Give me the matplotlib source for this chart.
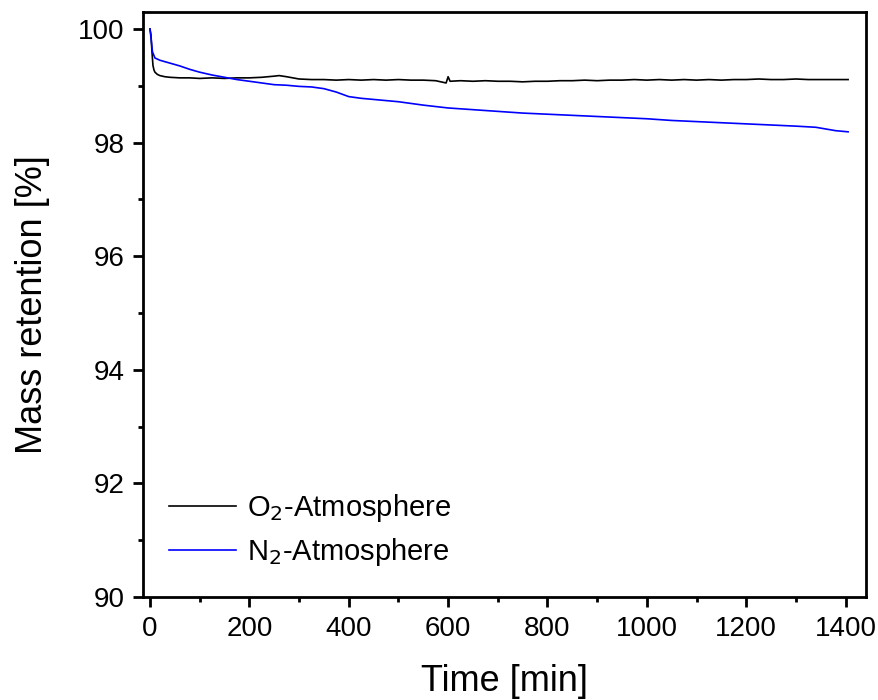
import matplotlib.pyplot as plt
from matplotlib.ticker import MultipleLocator

plt.rcParams['font.family'] = ['Liberation Sans', 'DejaVu Sans']

# O2 atmosphere (time in min, mass retention in %)
t_o2 = [0, 2, 4, 6, 8, 10, 15, 20, 30, 40, 60, 80, 100, 125, 150, 175, 200,
        225, 250, 260, 275, 300, 325, 350, 375, 400, 425, 450, 475, 500, 525,
        550, 575, 596, 600, 604, 625, 650, 675, 700, 725, 750, 775, 800, 825,
        850, 875, 900, 925, 950, 975, 1000, 1025, 1050, 1075, 1100, 1125,
        1150, 1175, 1200, 1225, 1250, 1275, 1300, 1325, 1350, 1375, 1405]
m_o2 = [100.0, 99.9, 99.6, 99.36, 99.28, 99.24, 99.2, 99.18, 99.16, 99.15,
        99.14, 99.14, 99.13, 99.14, 99.13, 99.14, 99.14, 99.15, 99.17, 99.18,
        99.16, 99.12, 99.11, 99.11, 99.10, 99.11, 99.10, 99.11, 99.10, 99.11,
        99.10, 99.10, 99.09, 99.05, 99.16, 99.08, 99.09, 99.08, 99.09, 99.08,
        99.08, 99.07, 99.08, 99.08, 99.09, 99.09, 99.10, 99.09, 99.10, 99.10,
        99.11, 99.10, 99.11, 99.10, 99.11, 99.10, 99.11, 99.10, 99.11, 99.11,
        99.12, 99.11, 99.11, 99.12, 99.11, 99.11, 99.11, 99.11]

# N2 atmosphere
t_n2 = [0, 2, 5, 10, 20, 40, 60, 80, 100, 125, 150, 175, 200, 225, 250, 275,
        300, 325, 350, 375, 400, 425, 450, 475, 500, 550, 600, 650, 700, 750,
        800, 850, 900, 950, 1000, 1050, 1100, 1150, 1200, 1250, 1300, 1340,
        1360, 1380, 1405]
m_n2 = [100.0, 99.85, 99.6, 99.49, 99.45, 99.40, 99.35, 99.29, 99.24, 99.19,
        99.15, 99.11, 99.08, 99.05, 99.02, 99.01, 98.99, 98.98, 98.95, 98.89,
        98.81, 98.78, 98.76, 98.74, 98.72, 98.66, 98.61, 98.58, 98.55, 98.52,
        98.50, 98.48, 98.46, 98.44, 98.42, 98.39, 98.37, 98.35, 98.33, 98.31,
        98.29, 98.27, 98.24, 98.21, 98.19]

fig = plt.figure(figsize=(8.79, 7.0), dpi=100)
ax = fig.add_axes([0.1627, 0.1471, 0.8225, 0.8358])

ax.plot(t_o2, m_o2, color='black', lw=1.2, label='O$_2$-Atmosphere')
ax.plot(t_n2, m_n2, color='#0000FF', lw=1.2, label='N$_2$-Atmosphere')

ax.set_xlim(-14, 1441)
ax.set_ylim(90, 100.3)
ax.xaxis.set_major_locator(MultipleLocator(200))
ax.xaxis.set_minor_locator(MultipleLocator(100))
ax.yaxis.set_major_locator(MultipleLocator(2))
ax.yaxis.set_minor_locator(MultipleLocator(1))

for s in ax.spines.values():
    s.set_linewidth(2.0)
ax.tick_params(which='both', direction='out', width=2.0, labelsize=20,
               top=False, right=False, pad=6.5)
ax.tick_params(which='major', length=7)
ax.tick_params(which='minor', length=3.6)

ax.set_xlabel('Time [min]', fontsize=26, labelpad=16)
ax.set_ylabel('Mass retention [%]', fontsize=26, labelpad=20)

ax.legend(loc='lower left', frameon=False, fontsize=21, handlelength=2.3,
          handletextpad=0.35, labelspacing=0.42, bbox_to_anchor=(0.0, 0.004))

fig.savefig('out.png', dpi=100)
